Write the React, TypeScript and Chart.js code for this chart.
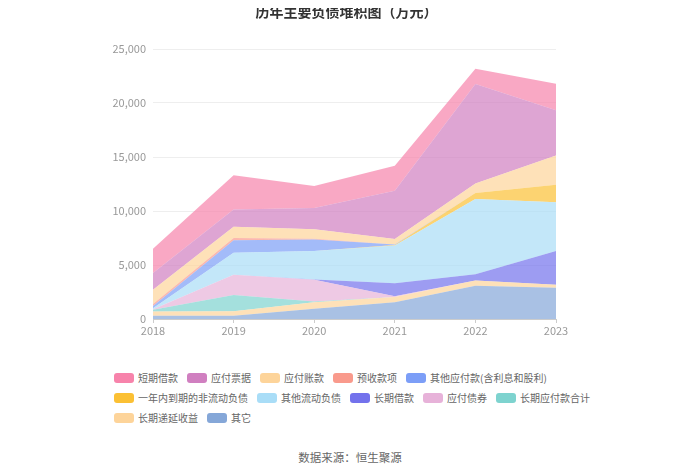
import React, { useEffect, useRef } from 'react';
import { Chart, registerables } from 'chart.js';

Chart.register(...registerables);

const FONT = '"Noto Sans CJK SC", "Noto Sans", sans-serif';

// Categories
const years = ['2018', '2019', '2020', '2021', '2022', '2023'];

// Series values (万元), bottom of stack first
const qita = [300, 300, 950, 1540, 3080, 2900]; // 其它
const changqiDiyanShouyi = [400, 410, 600, 500, 480, 280]; // 长期递延收益
const changqiYingfukuan = [150, 1510, 80, 0, 0, 0]; // 长期应付款合计
const yingfuZhaiquan = [50, 1880, 2000, 60, 0, 0]; // 应付债券
const changqiJiekuan = [0, 0, 30, 1200, 580, 3110]; // 长期借款
const qitaLiudongFuzhai = [100, 2040, 2640, 3500, 6970, 4510]; // 其他流动负债
const yinianNeiDaoqi = [0, 0, 0, 60, 560, 1640]; // 一年内到期的非流动负债
const qitaYingfukuan = [200, 1160, 1050, 40, 0, 0]; // 其他应付款(含利息和股利)
const yushouKuanxiang = [200, 200, 80, 0, 0, 0]; // 预收款项
const yingfuZhangkuan = [1300, 1050, 870, 500, 880, 2700]; // 应付账款
const yingfuPiaoju = [1550, 1600, 1980, 4480, 9200, 4200]; // 应付票据
const duanqiJiekuan = [2250, 3150, 2040, 2320, 1430, 2450]; // 短期借款

// Series names and colours, bottom of stack first
const seriesNames = [
  '其它',
  '长期递延收益',
  '长期应付款合计',
  '应付债券',
  '长期借款',
  '其他流动负债',
  '一年内到期的非流动负债',
  '其他应付款(含利息和股利)',
  '预收款项',
  '应付账款',
  '应付票据',
  '短期借款',
];
const seriesValues = [
  qita,
  changqiDiyanShouyi,
  changqiYingfukuan,
  yingfuZhaiquan,
  changqiJiekuan,
  qitaLiudongFuzhai,
  yinianNeiDaoqi,
  qitaYingfukuan,
  yushouKuanxiang,
  yingfuZhangkuan,
  yingfuPiaoju,
  duanqiJiekuan,
];
const seriesColors = [
  '#85a7d8',
  '#fdd49a',
  '#7ed3cf',
  '#e7b2d9',
  '#7372ec',
  '#a9ddf7',
  '#fbc034',
  '#7c9ef7',
  '#f99a8c',
  '#fdd49a',
  '#d07fc0',
  '#f783ab',
];

const yTicks = [0, 5000, 10000, 15000, 20000, 25000];

function rgba(hex: string, a: number): string {
  const r = parseInt(hex.slice(1, 3), 16);
  const g = parseInt(hex.slice(3, 5), 16);
  const b = parseInt(hex.slice(5, 7), 16);
  return `rgba(${r},${g},${b},${a})`;
}

const legendRows = [
  [11, 10, 9, 8, 7],
  [6, 5, 4, 3, 2],
  [1, 0],
];

export default function App() {
  const ref = useRef<HTMLCanvasElement | null>(null);

  useEffect(() => {
    if (!ref.current) return;
    const chart = new Chart(ref.current, {
      type: 'line',
      data: {
        labels: years,
        datasets: seriesNames.map((name, i) => ({
          label: name,
          data: seriesValues[i],
          fill: i === 0 ? 'origin' : '-1',
          backgroundColor: rgba(seriesColors[i], 0.7),
          borderColor: 'rgba(0,0,0,0)',
          borderWidth: 0,
          pointRadius: 0,
          tension: 0,
        })),
      },
      options: {
        responsive: false,
        animation: false,
        layout: { padding: { top: 41, right: 136, left: 0, bottom: 0 } },
        plugins: {
          legend: { display: false },
          tooltip: { enabled: false },
          title: { display: false },
        },
        scales: {
          x: {
            grid: { drawOnChartArea: false, drawTicks: true, tickLength: 4, color: '#ccc' },
            border: { color: '#ccc' },
            ticks: { color: '#999', font: { size: 11, family: FONT }, padding: 1, maxRotation: 0 },
            afterFit: (s: any) => {
              s.height = 29;
            },
          },
          y: {
            stacked: true,
            min: yTicks[0],
            max: yTicks[yTicks.length - 1],
            afterBuildTicks: (s: any) => {
              s.ticks = yTicks.map((v) => ({ value: v }));
            },
            ticks: {
              color: '#999',
              font: { size: 11, family: FONT },
              padding: 7,
              callback: (v: any) => Number(v).toLocaleString('en-US'),
            },
            grid: { color: '#eee', drawTicks: false },
            border: { display: false },
            afterFit: (s: any) => {
              s.width = 145;
            },
          },
        },
      },
    });
    return () => chart.destroy();
  }, []);

  return (
    <div style={{ position: 'relative', width: 684, height: 458, fontFamily: FONT }}>
      <canvas
        ref={ref}
        width={684}
        height={340}
        style={{ position: 'absolute', left: 0, top: 0, width: 684, height: 340 }}
      />
      <div
        style={{
          position: 'absolute',
          top: -7,
          left: 338.5,
          transform: 'translateX(-50%)',
          fontSize: 14,
          lineHeight: '20px',
          fontWeight: 'bold',
          color: '#333',
          whiteSpace: 'nowrap',
        }}
      >
        历年主要负债堆积图（万元）
      </div>
      {legendRows.map((row, ri) => (
        <div
          key={ri}
          style={{
            position: 'absolute',
            left: 106,
            top: 363 + ri * 20,
            height: 14,
            display: 'flex',
            alignItems: 'center',
            whiteSpace: 'nowrap',
          }}
        >
          {row.map((idx) => (
            <div key={idx} style={{ display: 'flex', alignItems: 'center', marginRight: 9 }}>
              <span
                style={{
                  display: 'inline-block',
                  width: 20,
                  height: 10,
                  borderRadius: 3,
                  background: seriesColors[idx],
                  marginRight: 4,
                }}
              />
              <span style={{ fontSize: 10, lineHeight: '14px', color: '#666' }}>{seriesNames[idx]}</span>
            </div>
          ))}
        </div>
      ))}
      <div
        style={{
          position: 'absolute',
          top: 441,
          left: 342,
          transform: 'translateX(-50%)',
          fontSize: 11.5,
          lineHeight: '16px',
          color: '#666',
          whiteSpace: 'nowrap',
        }}
      >
        数据来源：恒生聚源
      </div>
    </div>
  );
}
